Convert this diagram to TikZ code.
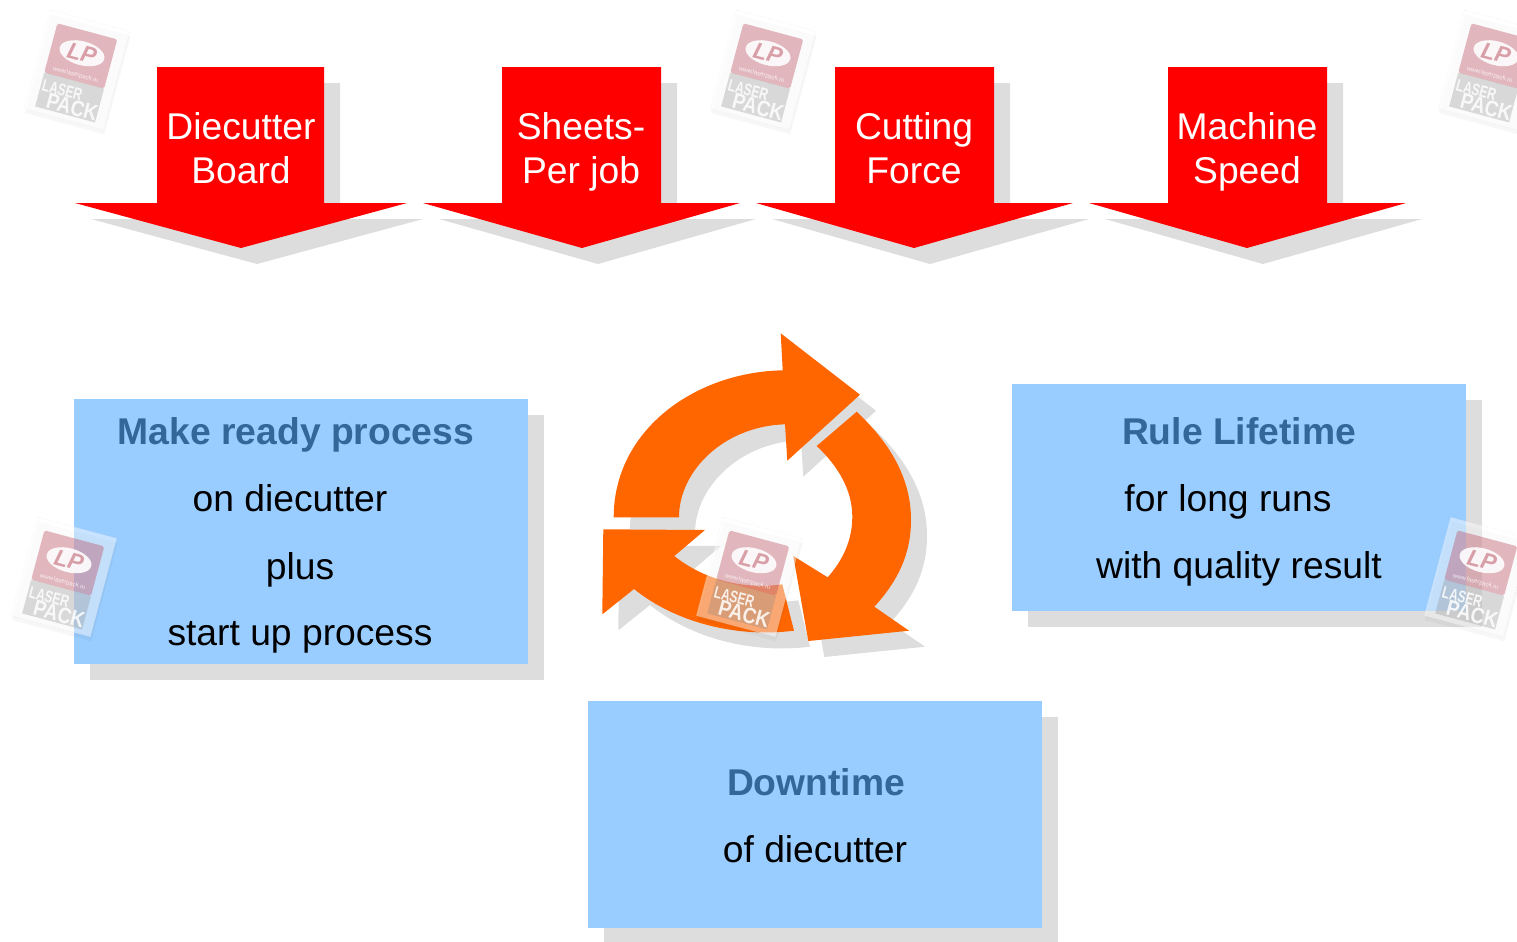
\documentclass[tikz,border=0pt]{standalone}
\usepackage{fontspec}
\setmainfont{Liberation Sans}
\usetikzlibrary{shadows}
\definecolor{redfill}{HTML}{FF0000}
\definecolor{boxblue}{HTML}{99CCFF}
\definecolor{titleblue}{HTML}{336699}
\definecolor{cycleorange}{HTML}{FF6600}
\definecolor{shadowgray}{HTML}{DDDDDD}
\definecolor{stamppink}{HTML}{B8485A}
\definecolor{stampgray}{HTML}{808080}

\tikzset{
  arrowtext/.style={anchor=base,text=white,align=center,inner sep=0pt,
    font=\fontsize{21.2}{25}\selectfont},
  infobox/.style={fill=boxblue,minimum width=9.08cm,inner sep=0pt,
    drop shadow={shadow xshift=.32cm,shadow yshift=-.32cm,opacity=1,fill=shadowgray}},
  boxtitle/.style={anchor=base,inner sep=0pt,text=titleblue,
    font=\fontsize{21.2}{25}\selectfont\bfseries},
  boxline/.style={anchor=base,inner sep=0pt,text=black,
    font=\fontsize{21.2}{25}\selectfont},
  stamp/.pic={
    \fill[black,opacity=.03] (-39,-47) rectangle (43,55);
    \fill[white,opacity=.45] (-41,-51) rectangle (41,51);
    \draw[black!25,opacity=.2,densely dotted,line width=.5pt] (-41,-51) rectangle (41,51);
    \fill[stamppink,opacity=.38,rounded corners=1pt] (-31,-40) rectangle (31,11);
    \fill[stampgray,opacity=.28] (-31,11) rectangle (31,46);
    \fill[white,opacity=.9] (.5,-17.5) ellipse (23 and 12);
    \node[transform shape,inner sep=0pt,text=stamppink,opacity=.5,
      font=\fontsize{13}{13}\selectfont\bfseries\itshape] (-logo) at (.5,-17.5) {LP};
    \node[transform shape,inner sep=0pt,text=white,opacity=.8,
      font=\fontsize{3.4}{4}\selectfont] (-url) at (0,5) {www.laserpack.ru};
    \node[transform shape,inner sep=0pt,text=white,opacity=.85,xscale=.72,
      font=\fontsize{9.5}{10}\selectfont\bfseries] (-laser) at (-9,23) {LASER};
    \node[transform shape,inner sep=0pt,text=white,opacity=.85,xscale=.85,
      font=\fontsize{12.6}{13}\selectfont\bfseries] (-pack) at (5,37) {PACK};
  }
}

\newcommand{\cyclepaths}{%
  (613.7,517.3) .. controls (613.7,430) and (695,372) .. (782.7,370.3)
    -- (780.7,333.3) -- (860,394.7) -- (787.3,460.7) -- (785,424.3)
    .. controls (725,426) and (679,470) .. (679,517.3) -- cycle
  (856.7,411.7) .. controls (892,445) and (911,480) .. (911,520)
    .. controls (911,555) and (897,582) .. (874.3,606.7)
    -- (909,630.7) -- (808.3,641) -- (793.3,556) -- (827.7,577.3)
    .. controls (843,560) and (852.3,540) .. (852.3,516.7)
    .. controls (852.3,490) and (838,466) .. (816.7,446) -- cycle
  (794,630.7) -- (782.3,584.3)
    .. controls (740,590) and (702,578) .. (674.3,556)
    -- (705,530) -- (603.3,529.3) -- (602.3,614.3) -- (634,589)
    .. controls (675,622) and (735,638) .. (794,630.7) -- cycle}

\begin{document}
\begin{tikzpicture}[x=0.02cm,y=-0.02cm]

  \useasboundingbox (0,0) rectangle (1517,941);

  % red arrows
  \foreach \sl/\sr/\hl/\hr/\tip in {157/324/75/407/241,502/661/423/740/582,
      835/994/756/1073/914,1168/1327/1089/1406/1247}{
    \fill[shadowgray,shift={(16,16)}] (\sl,67) -- (\sr,67) -- (\sr,203) -- (\hr,203)
      -- (\tip,248) -- (\hl,203) -- (\sl,203) -- cycle;
    \fill[redfill] (\sl,67) -- (\sr,67) -- (\sr,203) -- (\hr,203)
      -- (\tip,248) -- (\hl,203) -- (\sl,203) -- cycle;
  }
  \node[arrowtext] (board)  at (241,183)  {Diecutter\\Board};
  \node[arrowtext] (sheets) at (581,183)  {Sheets-\\Per job};
  \node[arrowtext] (force)  at (914,183)  {Cutting\\Force};
  \node[arrowtext] (speed)  at (1247,183) {Machine\\Speed};

  % boxes
  \node[infobox,minimum height=5.3cm]  (ready) at (301,531.5) {};
  \node[infobox,minimum height=4.54cm] (rule)  at (1239,497.5) {};
  \node[infobox,minimum height=4.54cm] (down)  at (815,814.5) {};

  \node[boxtitle] (readyA) at (296,444) {Make ready process};
  \node[boxline]  (readyB) at (290,511) {on diecutter};
  \node[boxline]  (readyC) at (300,579) {plus};
  \node[boxline]  (readyD) at (300,645) {start up process};

  \node[boxtitle] (ruleA) at (1239,444) {Rule Lifetime};
  \node[boxline]  (ruleB) at (1228,511) {for long runs};
  \node[boxline]  (ruleC) at (1239,578) {with quality result};

  \node[boxtitle] (downA) at (816,795) {Downtime};
  \node[boxline]  (downB) at (815,862) {of diecutter};

  % cycle
  \fill[shadowgray,shift={(16,16)}] \cyclepaths;
  \fill[cycleorange] \cyclepaths;

  % stamps
  \pic[rotate=-15] (stampA) at (77,70)    {stamp};
  \pic[rotate=-15] (stampB) at (763,70)   {stamp};
  \pic[rotate=-15] (stampC) at (1491,70)  {stamp};
  \pic[rotate=-15] (stampD) at (64,577)   {stamp};
  \pic[rotate=-15] (stampE) at (1477,577) {stamp};
  \pic[rotate=-15] (stampF) at (749,577)  {stamp};

\end{tikzpicture}
\end{document}
